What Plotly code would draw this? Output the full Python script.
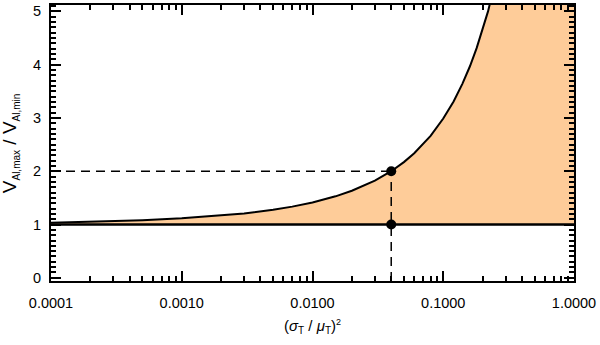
import plotly.graph_objects as go

# values
x_curve = [0.0001, 0.0002, 0.0005, 0.001, 0.002, 0.003, 0.005, 0.007, 0.01, 0.015,
           0.02, 0.03, 0.04, 0.05, 0.06, 0.08, 0.1, 0.12, 0.14, 0.16, 0.18, 0.2,
           0.22, 0.24, 0.3, 0.5, 1.0]
y_curve = [1.035, 1.05, 1.081, 1.116, 1.168, 1.209, 1.278, 1.336, 1.414, 1.529,
           1.633, 1.823, 2.0, 2.171, 2.337, 2.665, 2.99, 3.31, 3.64, 3.97, 4.31, 4.66,
           5.0, 5.38, 6.6, 11.5, 32.0]
x_base = [0.0001, 1.0]
y_base = [1.0, 1.0]
x_mark = [0.04, 0.04]
y_mark = [2.0, 1.0]

x_tickvals = [0.0001, 0.001, 0.01, 0.1, 1.0]
x_ticktext = ["0.0001", "0.0010", "0.0100", "0.1000", "1.0000"]
y_tickvals = [0, 1, 2, 3, 4, 5]

x_minor = [m * 10.0 ** e for e in range(-4, 0) for m in range(2, 10)]
y_minor = [i / 10 for i in range(0, 52) if i % 10]
x_range = [-4, 0]
y_range = [-0.06, 5.12]

FONT = "Liberation Sans, Arial, sans-serif"
FILL = "rgb(254,204,153)"
DASH = "9px,6px"

fig = go.Figure()

fig.add_trace(go.Scatter(x=x_base, y=y_base, mode="lines",
                         line=dict(color="black", width=2), showlegend=False))
fig.add_trace(go.Scatter(x=x_curve, y=y_curve, mode="lines",
                         line=dict(color="black", width=2),
                         fill="tonexty", fillcolor=FILL, showlegend=False))
fig.add_trace(go.Scatter(x=x_base, y=y_base, mode="lines",
                         line=dict(color="black", width=2), showlegend=False))

fig.add_trace(go.Scatter(x=[x_base[0], x_mark[0]], y=[y_mark[0], y_mark[0]], mode="lines",
                         line=dict(color="black", width=1.5, dash=DASH), showlegend=False))
fig.add_trace(go.Scatter(x=[x_mark[0], x_mark[0]], y=[y_range[0], y_mark[0]], mode="lines",
                         line=dict(color="black", width=1.5, dash=DASH), showlegend=False))

fig.add_trace(go.Scatter(x=x_mark, y=y_mark, mode="markers",
                         marker=dict(color="black", size=10), showlegend=False))

# invisible trace so the minor-tick overlay axes are drawn
fig.add_trace(go.Scatter(x=[x_base[0]], y=[y_base[0]], xaxis="x2", yaxis="y2",
                         mode="markers", marker=dict(opacity=0), showlegend=False,
                         hoverinfo="skip"))

common = dict(ticks="inside", tickwidth=2, tickcolor="black", showgrid=False,
              zeroline=False, showline=True, linecolor="black", linewidth=2,
              mirror="ticks", automargin=False, layer="above traces")

sub = "<sub><span style='font-size:10px'>{}</span></sub>"
ytitle = "V" + sub.format("Al,max") + " / V" + sub.format("Al,min")
xtitle = ("(<i>σ</i>" + sub.format("T") + " / <i>μ</i>" + sub.format("T") + ")"
          "<sup><span style='font-size:9px'>2</span></sup>")

fig.update_layout(
    width=600, height=345,
    margin=dict(l=51, r=26, t=5, b=64),
    paper_bgcolor="white", plot_bgcolor="white",
    font=dict(family=FONT, size=14.5, color="black"),
    xaxis=dict(
        type="log", range=x_range,
        tickmode="array", tickvals=x_tickvals, ticktext=x_ticktext, ticklen=10,
        ticklabelstandoff=8,
        title=dict(text=xtitle, font=dict(size=15), standoff=10),
        **common,
    ),
    yaxis=dict(
        range=y_range,
        tickmode="array", tickvals=y_tickvals, ticklen=10,
        ticklabelstandoff=5,
        **common,
    ),
    xaxis2=dict(
        type="log", range=x_range, overlaying="x", anchor="y2",
        tickmode="array", tickvals=x_minor, ticklen=5, showticklabels=False,
        **common,
    ),
    yaxis2=dict(
        range=y_range, overlaying="y", anchor="x2",
        tickmode="array", tickvals=y_minor, ticklen=5, showticklabels=False,
        **common,
    ),
    annotations=[dict(text=ytitle, xref="paper", yref="paper",
                      x=-0.078, y=0.5, xanchor="center", yanchor="middle",
                      textangle=-90, showarrow=False, font=dict(size=19))],
)

fig.write_html("out.html", config={"displayModeBar": False},
               post_script="document.body.style.margin='0';")
